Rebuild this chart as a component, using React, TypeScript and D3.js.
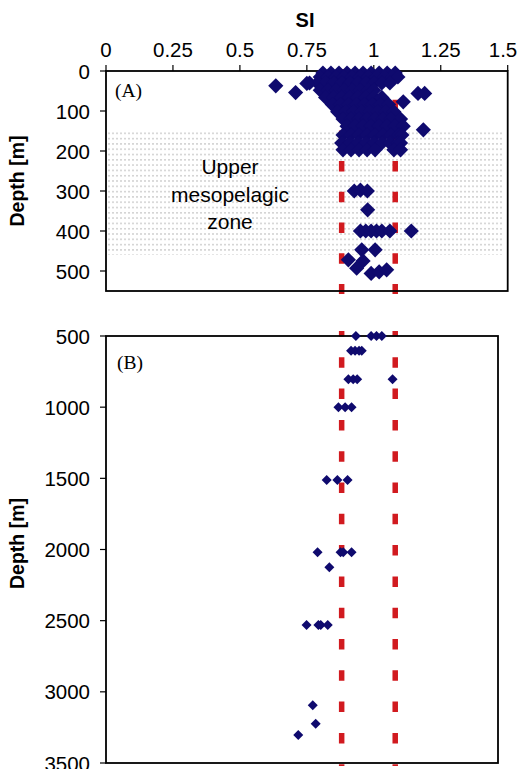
import * as d3 from 'd3';

// SI axis and depth ticks
const siTicks = [0, 0.25, 0.5, 0.75, 1, 1.25, 1.5];
const depthTicksA = [0, 100, 200, 300, 400, 500];
const depthTicksB = [500, 1000, 1500, 2000, 2500, 3000, 3500];

// saturation band (dashed red lines)
const siBounds = [0.88, 1.08];
// upper mesopelagic zone (m)
const zoneDepth = [150, 460];

// panel A : 0-550 m, rows of SI values per depth
const upperRowDepth = [5, 15, 30, 48, 66, 84, 102, 120, 138, 160, 180, 197];
const upperRowSI = [
  [0.81, 0.84, 0.87, 0.9, 0.93, 0.96, 0.99, 1.02, 1.05, 1.08],
  [0.8, 0.83, 0.86, 0.89, 0.92, 0.95, 0.98, 1.01, 1.04, 1.07, 1.09],
  [0.76, 0.79, 0.82, 0.85, 0.88, 0.91, 0.94, 0.97, 1.0, 1.03, 1.06],
  [0.8, 0.83, 0.86, 0.89, 0.92, 0.95, 0.98, 1.0],
  [0.82, 0.85, 0.88, 0.91, 0.94, 0.97, 1.0, 1.03],
  [0.845, 0.875, 0.905, 0.935, 0.965, 0.995, 1.025, 1.055],
  [0.865, 0.895, 0.925, 0.955, 0.985, 1.015, 1.045, 1.075],
  [0.885, 0.915, 0.945, 0.975, 1.005, 1.035, 1.065, 1.1],
  [0.9, 0.93, 0.96, 0.99, 1.02, 1.05, 1.08, 1.11],
  [0.885, 0.915, 0.945, 0.975, 1.005, 1.035, 1.065, 1.095, 1.105],
  [0.88, 0.91, 0.94, 0.97, 1.0, 1.03, 1.06, 1.09, 1.1],
  [0.885, 0.915, 0.945, 0.975, 1.005, 1.075, 1.1],
];
const upperLoneSI = [0.634, 0.708, 0.75, 1.165, 1.19, 1.11, 1.185, 0.927, 0.95, 0.976, 0.977,
  0.95, 0.97, 0.99, 1.01, 1.03, 1.06, 1.14, 0.955, 1.005, 0.905, 0.96, 0.936, 0.99, 1.02, 1.048];
const upperLoneDepth = [37, 54, 31, 56, 56, 77, 147, 300, 298, 300, 347,
  400, 400, 400, 400, 400, 400, 400, 447, 447, 472, 475, 493, 506, 502, 497];

// panel B : 500-3500 m
const deepSI = [0.933, 0.99, 1.01, 1.03, 0.915, 0.93, 0.945, 0.955, 0.905, 0.923, 0.938, 1.07,
  0.868, 0.893, 0.917, 0.824, 0.864, 0.902, 0.79, 0.876, 0.886, 0.917, 0.834,
  0.749, 0.793, 0.802, 0.828, 0.772, 0.783, 0.718];
const deepDepth = [500, 500, 500, 500, 603, 603, 603, 603, 804, 804, 804, 804,
  1000, 1000, 1000, 1512, 1512, 1512, 2020, 2020, 2020, 2020, 2125,
  2531, 2531, 2531, 2531, 3095, 3224, 3304];

const W = 520;
const H = 769;
const left = 106;
const rightA = 507.7;
const rightB = 498;
const topA = 71;
const bottomA = 291;
const topB = 336;
const bottomB = 763;

const navy = '#0f0a6e';
const red = '#d11a1f';
const sans = 'Arial, "Liberation Sans", sans-serif';
const serif = '"Liberation Serif", "Times New Roman", serif';

export default function App() {
  const x = d3.scaleLinear().domain([0, 1.5]).range([left, rightA]);
  const yA = d3.scaleLinear().domain([0, 550]).range([topA, bottomA]);
  const yB = d3.scaleLinear().domain([500, 3500]).range([topB, bottomB]);

  const bigDiamond = d3.symbol().type(d3.symbolSquare).size(115)();
  const smallDiamond = d3.symbol().type(d3.symbolSquare).size(50)();

  const upperPts: [number, number][] = [];
  upperRowDepth.forEach((dep, i) => upperRowSI[i].forEach(s => upperPts.push([s, dep])));
  upperLoneSI.forEach((s, i) => upperPts.push([s, upperLoneDepth[i]]));

  const deepPts = deepSI.map((s, i) => [s, deepDepth[i]]);

  return (
    <svg width={W} height={H} style={{ position: 'absolute', left: 0, top: 0, background: '#fff' }}>
      <defs>
        <pattern id="dots" width={4} height={5.3} patternUnits="userSpaceOnUse">
          <rect x={0} y={0} width={2} height={1.6} fill="#d4d4d4" />
        </pattern>
      </defs>
      <rect width={W} height={H} fill="#fff" />

      {/* title */}
      <text x={305} y={27} textAnchor="middle" fontFamily={sans} fontWeight="bold" fontSize={20}>SI</text>

      {/* ---------- panel A ---------- */}
      <rect x={left} y={yA(zoneDepth[0])} width={503 - left} height={yA(zoneDepth[1]) - yA(zoneDepth[0])} fill="url(#dots)" />
      {siTicks.map(t => (
        <g key={'xt' + t}>
          <line x1={x(t)} x2={x(t)} y1={topA} y2={topA - 6} stroke="#000" strokeWidth={1.2} />
          <text x={Math.min(x(t), 503)} y={57} textAnchor="middle" fontFamily={sans} fontSize={20.5}>{t}</text>
        </g>
      ))}
      {depthTicksA.map(t => (
        <g key={'ya' + t}>
          <line x1={left - 6} x2={left} y1={yA(t)} y2={yA(t)} stroke="#000" strokeWidth={1.2} />
          <text x={90} y={yA(t) + 7.5} textAnchor="end" fontFamily={sans} fontSize={20.5}>{t}</text>
        </g>
      ))}
      {siBounds.map(b => (
        <line key={'ra' + b} x1={x(b)} x2={x(b)} y1={69} y2={294} stroke={red} strokeWidth={5.5}
          strokeDasharray="10.5 20.2" />
      ))}
      <text x={230} y={174} textAnchor="middle" fontFamily={sans} fontSize={21}>Upper</text>
      <text x={230} y={201.5} textAnchor="middle" fontFamily={sans} fontSize={21}>mesopelagic</text>
      <text x={230} y={229} textAnchor="middle" fontFamily={sans} fontSize={21}>zone</text>
      <text x={115} y={97} fontFamily={serif} fontSize={19.5}>(A)</text>
      <rect x={left} y={topA} width={rightA - left} height={bottomA - topA} fill="none" stroke="#000" strokeWidth={1.8} />
      {upperPts.map((p, i) => (
        <path key={'pa' + i} d={bigDiamond} fill={navy}
          transform={`translate(${x(p[0])},${yA(p[1])}) rotate(45)`} />
      ))}
      <text transform={`translate(24,${(topA + bottomA) / 2}) rotate(-90)`} textAnchor="middle"
        fontFamily={sans} fontWeight="bold" fontSize={19.5}>Depth [m]</text>

      {/* ---------- panel B ---------- */}
      {depthTicksB.map(t => (
        <g key={'yb' + t}>
          <line x1={left - 6} x2={left} y1={yB(t)} y2={yB(t)} stroke="#000" strokeWidth={1.2} />
          <text x={90} y={yB(t) + 7.5} textAnchor="end" fontFamily={sans} fontSize={20.5}>{t}</text>
        </g>
      ))}
      {siBounds.map(b => (
        <line key={'rb' + b} x1={x(b)} x2={x(b)} y1={331} y2={766} stroke={red} strokeWidth={5.5}
          strokeDasharray="10.5 20.8" strokeDashoffset={5} />
      ))}
      <text x={117} y={369} fontFamily={serif} fontSize={19.5}>(B)</text>
      <rect x={left} y={topB} width={rightB - left} height={bottomB - topB} fill="none" stroke="#000" strokeWidth={1.8} />
      {deepPts.map((p, i) => (
        <path key={'pb' + i} d={smallDiamond} fill={navy}
          transform={`translate(${x(p[0])},${yB(p[1])}) rotate(45)`} />
      ))}
      <text transform={`translate(24,${(topB + bottomB) / 2 - 6}) rotate(-90)`} textAnchor="middle"
        fontFamily={sans} fontWeight="bold" fontSize={19.5}>Depth [m]</text>
    </svg>
  );
}
